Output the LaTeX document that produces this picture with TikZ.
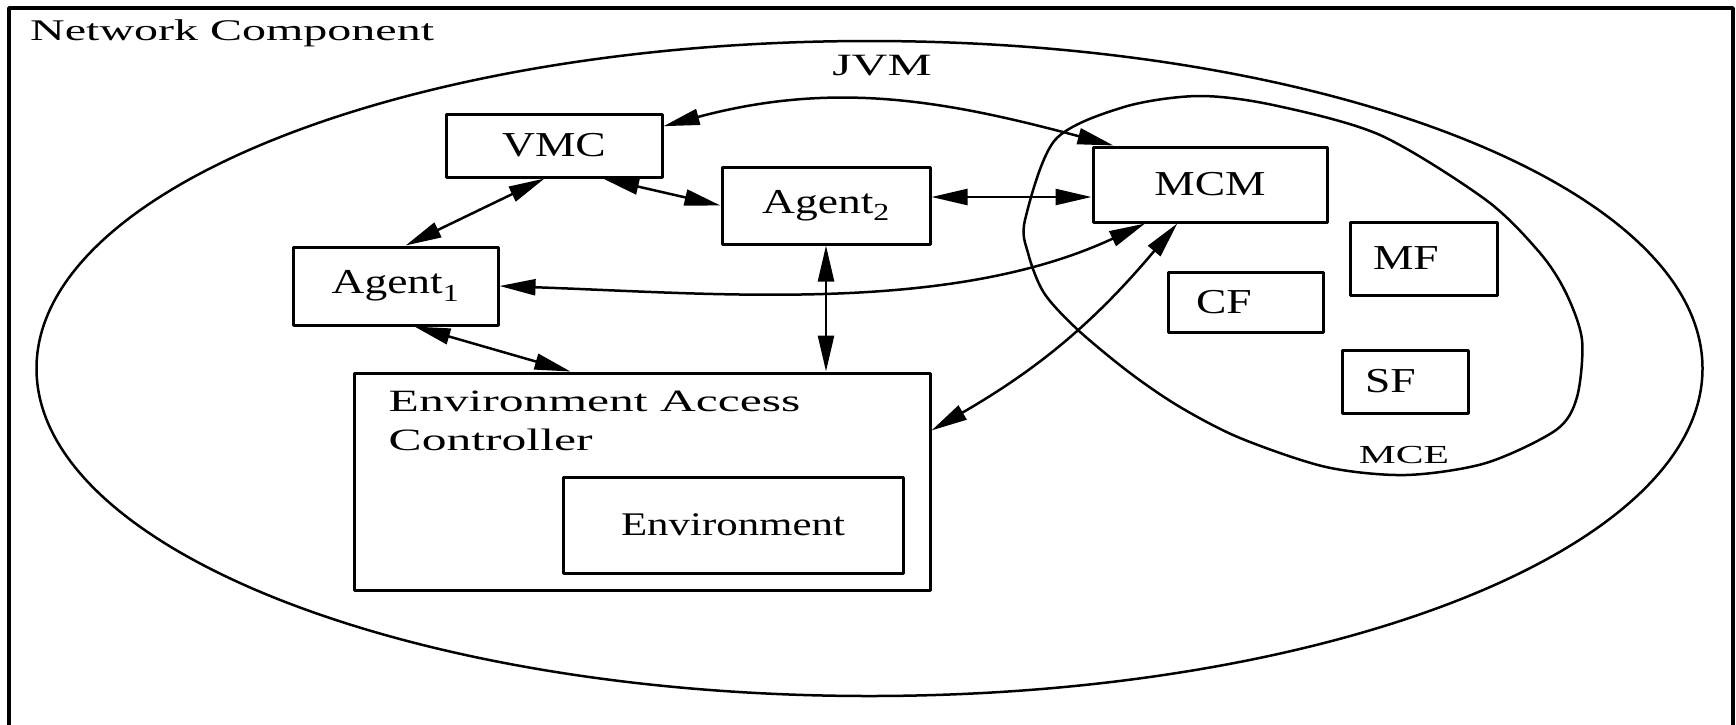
\documentclass[tikz,border=0pt]{standalone}
\usepackage{fontspec}
\setmainfont{Liberation Serif}[FakeStretch=1.6]
\newfontfamily\boxfont{Liberation Serif}[FakeStretch=1.3]
\usetikzlibrary{arrows.meta}

\begin{document}
\begin{tikzpicture}[x=1pt, y=1pt, line join=round,
    box/.style={draw, line width=3pt, inner sep=0pt, font=\boxfont\fontsize{35}{42}\selectfont},
    wide/.style={inner sep=0pt, font=\fontsize{31}{39}\selectfont},
    link/.style={line width=2.5pt, {Triangle[length=36pt,width=16pt]}-{Triangle[length=36pt,width=16pt]}}]

  \useasboundingbox (0,0) rectangle (1736,-724);

  % outer frame, runs off the bottom
  \draw[line width=3.5pt] (9,-740) |- (1733,-8) -- (1733,-740);
  \node[wide, anchor=base west, font=\fontsize{30}{36}\selectfont] (netname) at (30,-40) {Network Component};

  % JVM and MCE outlines
  \draw[line width=2.5pt] (869.5,-368.5) ellipse [x radius=833, y radius=327.5];
  \node[wide, anchor=base] (jvmname) at (882,-75) {JVM};
  \draw[line width=2.5pt] plot[smooth cycle] coordinates {
    (1025,-220) (1055,-140) (1124,-107) (1198,-96) (1273,-105) (1380,-135)
    (1486,-200) (1540,-253) (1566,-293) (1582,-340) (1577,-397) (1556,-430)
    (1486,-463) (1406,-475) (1326,-467) (1240,-438) (1180,-407) (1130,-373)
    (1078,-330) (1044,-293) (1028,-253)};
  \node[wide, anchor=base, font=\fontsize{26}{31}\selectfont] (mcename) at (1404,-463) {MCE};

  % components
  \node[box, minimum width=216pt, minimum height=63pt] (vmc) at (554,-145.5) {VMC};
  \node[box, minimum width=208pt, minimum height=77pt] (agent2) at (826,-205.5) {Agent\textsubscript{2}};
  \node[box, minimum width=205pt, minimum height=78pt] (agent1) at (395.5,-286) {Agent\textsubscript{1}};
  \node[box, minimum width=234pt, minimum height=75pt] (mcm) at (1210,-184.5) {MCM};
  \node[box, align=left, inner xsep=23pt, text width=101pt, minimum height=73pt] (mf) at (1423.5,-258.5) {MF};
  \node[box, align=left, inner xsep=28pt, text width=99pt, minimum height=60pt] (cf) at (1245.5,-302) {CF};
  \node[box, align=left, inner xsep=23pt, text width=80pt, minimum height=63pt] (sf) at (1405,-381.5) {SF};
  \node[box, minimum width=576pt, minimum height=217pt] (eac) at (642,-481.5) {};
  \node[wide, anchor=north west, align=left, inner xsep=36pt, inner ysep=19pt] (eactext) at (eac.north west) {Environment Access\\Controller};
  \node[box, minimum width=340pt, minimum height=96pt, font=\boxfont\fontsize{33}{40}\selectfont] (env) at (733,-525) {Environment};

  % links
  \coordinate (a2r) at ([yshift=8.5pt]agent2.east);
  \draw[link] (vmc.10) to[out=15, in=165] (mcm.158);
  \draw[link] (vmc.254) -- (agent1.76);
  \draw[link] (vmc.-34) -- (agent2.west);
  \draw[link] (a2r) -- (a2r -| mcm.west);
  \draw[link] (agent1.east) to[out=-2, in=205, looseness=0.85] (mcm.211);
  \draw[link] (agent2.south) -- (agent2.south |- eac.north);
  \draw[link] (agent1.-65) -- (eac.123);
  \draw[link] (mcm.230) to[out=230, in=30] (eac.10);
\end{tikzpicture}
\end{document}
